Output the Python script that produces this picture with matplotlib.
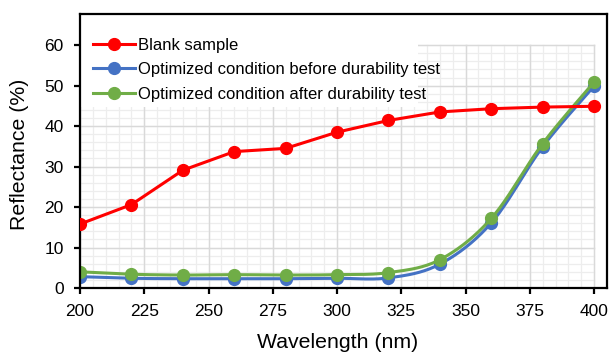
import numpy as np
import matplotlib
matplotlib.use("Agg")
import matplotlib.pyplot as plt
from matplotlib.patches import Rectangle

plt.rcParams['font.family'] = ['Liberation Sans', 'DejaVu Sans']

wavelength = [200, 220, 240, 260, 280, 300, 320, 340, 360, 380, 400]
blank = [15.8, 20.6, 29.1, 33.7, 34.5, 38.5, 41.4, 43.5, 44.3, 44.7, 44.9]
before = [2.8, 2.4, 2.3, 2.3, 2.3, 2.4, 2.5, 5.9, 16.1, 34.9, 49.9]
after = [4.0, 3.4, 3.2, 3.3, 3.2, 3.3, 3.8, 7.0, 17.2, 35.7, 50.9]

labels = ["Blank sample",
          "Optimized condition before durability test",
          "Optimized condition after durability test"]
colors = ["#FF0000", "#4472C4", "#70AD47"]

xticks = [200, 225, 250, 275, 300, 325, 350, 375, 400]
yticks = [0, 10, 20, 30, 40, 50, 60]


def smooth(x, y, n=20):
    """Excel-style smoothed line (uniform Catmull-Rom through the points)."""
    x = np.asarray(x, float)
    y = np.asarray(y, float)
    px = np.concatenate([[x[0]], x, [x[-1]]])
    py = np.concatenate([[y[0]], y, [y[-1]]])
    xs, ys = [], []
    t = np.linspace(0, 1, n, endpoint=False)
    for i in range(1, len(px) - 2):
        p0x, p1x, p2x, p3x = px[i - 1:i + 3]
        p0y, p1y, p2y, p3y = py[i - 1:i + 3]
        for (a0, a1, a2, a3, out) in ((p0x, p1x, p2x, p3x, xs), (p0y, p1y, p2y, p3y, ys)):
            out.extend(0.5 * ((2 * a1) + (-a0 + a2) * t +
                              (2 * a0 - 5 * a1 + 4 * a2 - a3) * t ** 2 +
                              (-a0 + 3 * a1 - 3 * a2 + a3) * t ** 3))
    xs.append(x[-1])
    ys.append(y[-1])
    return np.array(xs), np.array(ys)


W, H = 612, 354
fig = plt.figure(figsize=(W / 100, H / 100), dpi=100)
ax = fig.add_axes([80 / W, 1 - 288 / H, (607 - 80) / W, (288 - 14) / H])

xmin, xmax = xticks[0], xticks[-1]
ymin, ymax = yticks[0], yticks[-1]

# grid (minor + major), limited to data range
for xv in np.arange(xmin, xmax + 0.1, 5):
    ax.plot([xv, xv], [ymin, ymax], color="#EDEDED", lw=0.9, zorder=0.5)
for yv in np.arange(ymin, ymax + 0.1, 2):
    ax.plot([xmin, xmax], [yv, yv], color="#EDEDED", lw=0.9, zorder=0.5)
for xv in xticks:
    ax.plot([xv, xv], [ymin, ymax], color="#D9D9D9", lw=1.0, zorder=0.6)
for yv in yticks:
    ax.plot([xmin, xmax], [yv, yv], color="#D9D9D9", lw=1.0, zorder=0.6)

# white legend background covering grid
ax.add_patch(Rectangle((0, 1 - (107 - 14) / 274), (418 - 80) / 527, (107 - 14) / 274,
                       transform=ax.transAxes, facecolor="white", edgecolor="none", zorder=0.8))

series = [blank, before, after]
handles = []
for i, (vals, c, lab) in enumerate(zip(series, colors, labels)):
    if i == 0:
        ax.plot(wavelength, vals, color=c, lw=2.2, zorder=3)
    else:
        sx, sy = smooth(wavelength, vals)
        ax.plot(sx, sy, color=c, lw=2.2, zorder=2 + i * 0.1)
    ax.plot(wavelength, vals, linestyle="none", marker="o", ms=8.5, color=c,
            zorder=2.05 + i * 0.1 if i else 3.05)
    h, = ax.plot([], [], color=c, lw=2.2, marker="o", ms=8.5, label=lab)
    handles.append(h)

ax.set_xlim(200, 405)
ax.set_ylim(0, 67.7)
ax.set_xticks(xticks)
ax.set_yticks(yticks)
ax.tick_params(axis="both", direction="out", length=4.5, width=1.6, labelsize=12.5)
ax.tick_params(axis="y", pad=7.3)
ax.tick_params(axis="x", pad=7)
for s in ax.spines.values():
    s.set_linewidth(1.6)
    s.set_color("black")

fig.text(338 / W, 1 - 343 / H, "Wavelength (nm)", fontsize=15.3, ha="center", va="center")
fig.text(20 / W, 1 - 154.5 / H, "Reflectance (%)", fontsize=15.3, ha="center", va="center",
         rotation=90)

leg = ax.legend(handles=handles, loc="upper left", bbox_to_anchor=(0.012, 0.937),
                frameon=False, fontsize=12, handlelength=2.5, handletextpad=0.22,
                labelspacing=0.56, borderaxespad=0.0)

fig.savefig("out.png", dpi=100)
